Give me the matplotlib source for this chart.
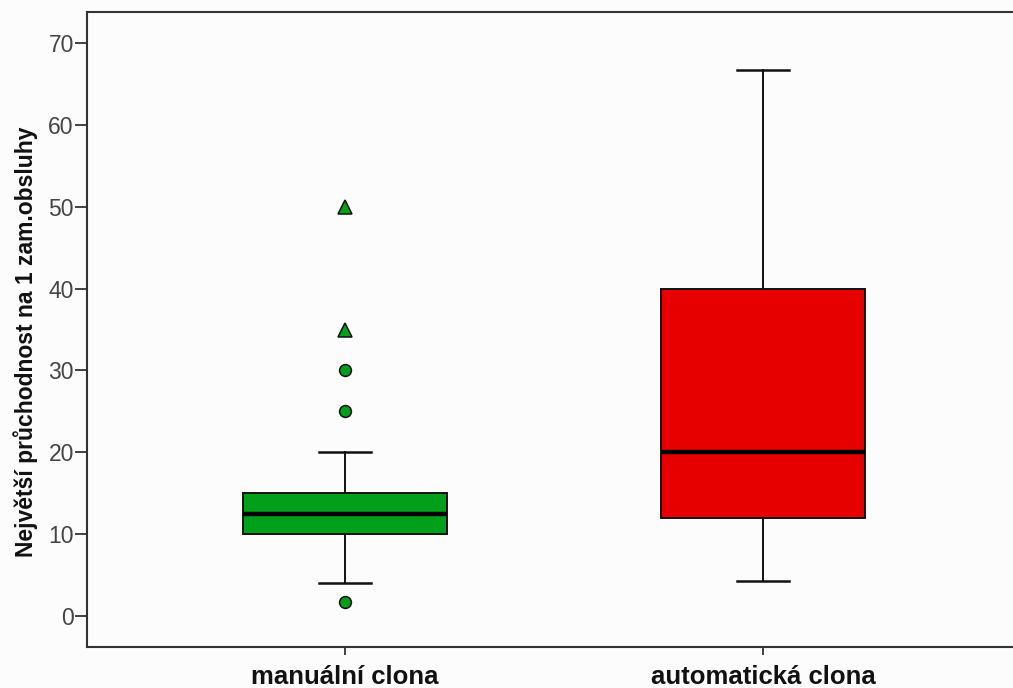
import matplotlib
matplotlib.use("Agg")
import matplotlib.pyplot as plt

# Box statistics per group (Největší průchodnost na 1 zam.obsluhy)
groups = ["manuální clona", "automatická clona"]
q1 = [10.0, 12.0]
median = [12.5, 20.0]
q3 = [15.0, 40.0]
whisker_low = [4.0, 4.29]
whisker_high = [20.0, 66.67]
outliers = [[1.67, 25.0, 30.0], []]
extremes = [[35.0, 50.0], []]
box_colors = ["#00a01a", "#e60000"]
y_ticks = [0, 10, 20, 30, 40, 50, 60, 70]

plt.rcParams["font.family"] = ["Liberation Sans", "DejaVu Sans"]

fig = plt.figure(figsize=(10.13, 6.88), dpi=100)
fig.patch.set_facecolor("#fcfcfc")
ax = fig.add_axes([0.0859, 0.0596, 0.92, 0.923])
ax.set_facecolor("#fcfcfc")

positions = [1, 2]
stats = []
for i, name in enumerate(groups):
    stats.append(dict(label=name, q1=q1[i], med=median[i], q3=q3[i],
                      whislo=whisker_low[i], whishi=whisker_high[i],
                      fliers=outliers[i]))

art = ax.bxp(stats, positions=positions, widths=0.49, patch_artist=True,
             showfliers=True,
             boxprops=dict(edgecolor="#111111", linewidth=1.4),
             medianprops=dict(color="black", linewidth=3.2),
             whiskerprops=dict(color="#111111", linewidth=1.4),
             capprops=dict(color="#111111", linewidth=1.8),
             capwidths=0.125,
             flierprops=dict(marker="o", markersize=8.5, markerfacecolor=box_colors[0],
                             markeredgecolor="#111111", markeredgewidth=1.1,
                             linestyle="none"))
for patch, c in zip(art["boxes"], box_colors):
    patch.set_facecolor(c)

# extreme values drawn as triangles
for i, vals in enumerate(extremes):
    if vals:
        ax.plot([positions[i]] * len(vals), vals, linestyle="none", marker="^",
                markersize=9.5, markerfacecolor=box_colors[i],
                markeredgecolor="#111111", markeredgewidth=1.1, zorder=3)

ax.set_xlim(0.383, 2.6125)
ax.set_ylim(-3.79, 73.8)
ax.set_yticks(y_ticks)
ax.set_yticklabels([str(t) for t in y_ticks], fontsize=16.5, color="#444444")
ax.set_xticks(positions)
ax.set_xticklabels(groups, fontsize=18.5, fontweight="bold", color="#111111")
ax.tick_params(axis="x", length=6, width=1.3, color="#333333", direction="out", pad=7)
ax.tick_params(axis="y", length=8.5, width=1.3, color="#333333", direction="out", pad=1)
for s in ["left", "bottom", "top"]:
    ax.spines[s].set_linewidth(1.5)
    ax.spines[s].set_color("#333333")
ax.spines["right"].set_visible(False)

fig.text(26 / 1013, 1 - 342 / 688, "Největší průchodnost na 1 zam.obsluhy",
         rotation=90, ha="center", va="center", fontsize=16.5,
         fontweight="bold", color="#111111")

fig.savefig("out.png", dpi=100, facecolor=fig.get_facecolor())
